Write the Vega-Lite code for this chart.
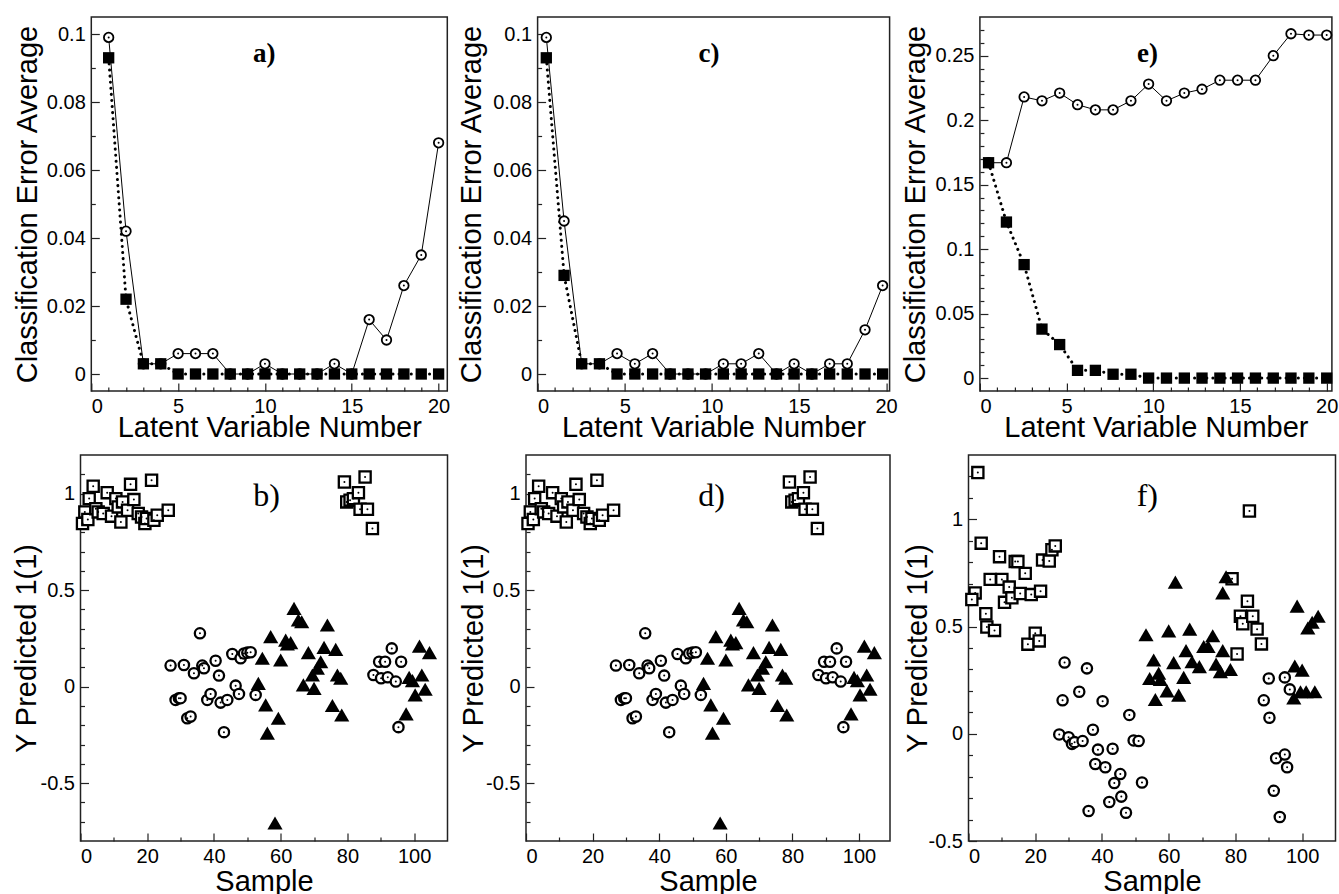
{
 "$schema": "https://vega.github.io/schema/vega-lite/v6.json",
 "padding": {"left": 0, "top": 16, "right": 0, "bottom": 0},
 "background": "white",
 "spacing": 11,
 "config": {
   "view": {"stroke": "#222", "strokeWidth": 1.5},
   "axis": {"domain": false, "grid": false, "labelFont": "Liberation Sans", "labelFontSize": 20, "labelColor": "black", "titleFont": "Liberation Sans", "titleFontSize": 29, "titleFontWeight": "normal", "titleColor": "black", "tickColor": "#222", "tickWidth": 1.2, "labelPadding": 14},
   "axisX": {"titleBaseline": "alphabetic", "labelPadding": 13},
   "axisY": {"titleBaseline": "middle"},
   "title": {"font": "Liberation Serif", "color": "black", "anchor": "middle", "baseline": "middle"}
 },
 "datasets": {
  "a": [
   {"x":1,"y":0.099,"s":"c"},{"x":2,"y":0.042,"s":"c"},{"x":3,"y":0.003,"s":"c"},{"x":4,"y":0.003,"s":"c"},{"x":5,"y":0.006,"s":"c"},{"x":6,"y":0.006,"s":"c"},{"x":7,"y":0.006,"s":"c"},{"x":8,"y":0,"s":"c"},{"x":9,"y":0,"s":"c"},{"x":10,"y":0.003,"s":"c"},{"x":11,"y":0,"s":"c"},{"x":12,"y":0,"s":"c"},{"x":13,"y":0,"s":"c"},{"x":14,"y":0.003,"s":"c"},{"x":15,"y":0,"s":"c"},{"x":16,"y":0.016,"s":"c"},{"x":17,"y":0.01,"s":"c"},{"x":18,"y":0.026,"s":"c"},{"x":19,"y":0.035,"s":"c"},{"x":20,"y":0.068,"s":"c"},
   {"x":1,"y":0.093,"s":"q"},{"x":2,"y":0.022,"s":"q"},{"x":3,"y":0.003,"s":"q"},{"x":4,"y":0.003,"s":"q"},{"x":5,"y":0,"s":"q"},{"x":6,"y":0,"s":"q"},{"x":7,"y":0,"s":"q"},{"x":8,"y":0,"s":"q"},{"x":9,"y":0,"s":"q"},{"x":10,"y":0,"s":"q"},{"x":11,"y":0,"s":"q"},{"x":12,"y":0,"s":"q"},{"x":13,"y":0,"s":"q"},{"x":14,"y":0,"s":"q"},{"x":15,"y":0,"s":"q"},{"x":16,"y":0,"s":"q"},{"x":17,"y":0,"s":"q"},{"x":18,"y":0,"s":"q"},{"x":19,"y":0,"s":"q"},{"x":20,"y":0,"s":"q"}
  ],
  "c": [
   {"x":0.5,"y":0.099,"s":"c"},{"x":1.52,"y":0.045,"s":"c"},{"x":2.53,"y":0.003,"s":"c"},{"x":3.55,"y":0.003,"s":"c"},{"x":4.56,"y":0.006,"s":"c"},{"x":5.58,"y":0.003,"s":"c"},{"x":6.6,"y":0.006,"s":"c"},{"x":7.61,"y":0,"s":"c"},{"x":8.63,"y":0,"s":"c"},{"x":9.64,"y":0,"s":"c"},{"x":10.66,"y":0.003,"s":"c"},{"x":11.68,"y":0.003,"s":"c"},{"x":12.69,"y":0.006,"s":"c"},{"x":13.71,"y":0,"s":"c"},{"x":14.72,"y":0.003,"s":"c"},{"x":15.74,"y":0,"s":"c"},{"x":16.76,"y":0.003,"s":"c"},{"x":17.77,"y":0.003,"s":"c"},{"x":18.79,"y":0.013,"s":"c"},{"x":19.8,"y":0.026,"s":"c"},
   {"x":0.5,"y":0.093,"s":"q"},{"x":1.52,"y":0.029,"s":"q"},{"x":2.53,"y":0.003,"s":"q"},{"x":3.55,"y":0.003,"s":"q"},{"x":4.56,"y":0,"s":"q"},{"x":5.58,"y":0,"s":"q"},{"x":6.6,"y":0,"s":"q"},{"x":7.61,"y":0,"s":"q"},{"x":8.63,"y":0,"s":"q"},{"x":9.64,"y":0,"s":"q"},{"x":10.66,"y":0,"s":"q"},{"x":11.68,"y":0,"s":"q"},{"x":12.69,"y":0,"s":"q"},{"x":13.71,"y":0,"s":"q"},{"x":14.72,"y":0,"s":"q"},{"x":15.74,"y":0,"s":"q"},{"x":16.76,"y":0,"s":"q"},{"x":17.77,"y":0,"s":"q"},{"x":18.79,"y":0,"s":"q"},{"x":19.8,"y":0,"s":"q"}
  ],
  "e": [
   {"x":0.5,"y":0.167,"s":"c"},{"x":1.53,"y":0.167,"s":"c"},{"x":2.55,"y":0.218,"s":"c"},{"x":3.58,"y":0.215,"s":"c"},{"x":4.6,"y":0.221,"s":"c"},{"x":5.63,"y":0.212,"s":"c"},{"x":6.66,"y":0.208,"s":"c"},{"x":7.68,"y":0.208,"s":"c"},{"x":8.71,"y":0.215,"s":"c"},{"x":9.73,"y":0.228,"s":"c"},{"x":10.76,"y":0.215,"s":"c"},{"x":11.79,"y":0.221,"s":"c"},{"x":12.81,"y":0.224,"s":"c"},{"x":13.84,"y":0.231,"s":"c"},{"x":14.86,"y":0.231,"s":"c"},{"x":15.89,"y":0.231,"s":"c"},{"x":16.92,"y":0.25,"s":"c"},{"x":17.94,"y":0.267,"s":"c"},{"x":18.97,"y":0.266,"s":"c"},{"x":20,"y":0.266,"s":"c"},
   {"x":0.5,"y":0.167,"s":"q"},{"x":1.53,"y":0.121,"s":"q"},{"x":2.55,"y":0.088,"s":"q"},{"x":3.58,"y":0.038,"s":"q"},{"x":4.6,"y":0.026,"s":"q"},{"x":5.63,"y":0.006,"s":"q"},{"x":6.66,"y":0.006,"s":"q"},{"x":7.68,"y":0.003,"s":"q"},{"x":8.71,"y":0.003,"s":"q"},{"x":9.73,"y":0,"s":"q"},{"x":10.76,"y":0,"s":"q"},{"x":11.79,"y":0,"s":"q"},{"x":12.81,"y":0,"s":"q"},{"x":13.84,"y":0,"s":"q"},{"x":14.86,"y":0,"s":"q"},{"x":15.89,"y":0,"s":"q"},{"x":16.92,"y":0,"s":"q"},{"x":17.94,"y":0,"s":"q"},{"x":18.97,"y":0,"s":"q"},{"x":20,"y":0,"s":"q"}
  ],
  "bd": [
   {"x":0.6,"y":0.845,"s":"q"},{"x":1.3,"y":0.905,"s":"q"},{"x":2.2,"y":0.866,"s":"q"},{"x":2.6,"y":0.974,"s":"q"},{"x":3.8,"y":1.038,"s":"q"},{"x":4.6,"y":0.922,"s":"q"},{"x":5.3,"y":0.905,"s":"q"},{"x":6.8,"y":0.897,"s":"q"},{"x":8,"y":1.005,"s":"q"},{"x":9.3,"y":0.883,"s":"q"},{"x":10.6,"y":0.974,"s":"q"},{"x":11.3,"y":0.931,"s":"q"},{"x":12.1,"y":0.853,"s":"q"},{"x":12.6,"y":0.957,"s":"q"},{"x":14.1,"y":0.914,"s":"q"},{"x":15,"y":1.048,"s":"q"},{"x":16,"y":0.969,"s":"q"},{"x":17.3,"y":0.897,"s":"q"},{"x":18.3,"y":0.879,"s":"q"},{"x":19.3,"y":0.845,"s":"q"},{"x":19.8,"y":0.871,"s":"q"},{"x":21.3,"y":1.069,"s":"q"},{"x":22,"y":0.862,"s":"q"},{"x":23,"y":0.888,"s":"q"},{"x":26.3,"y":0.914,"s":"q"},
   {"x":79.1,"y":1.06,"s":"q"},{"x":79.8,"y":0.957,"s":"q"},{"x":80.8,"y":0.966,"s":"q"},{"x":81.8,"y":0.974,"s":"q"},{"x":83.3,"y":1.005,"s":"q"},{"x":83.8,"y":0.919,"s":"q"},{"x":85.3,"y":1.086,"s":"q"},{"x":86,"y":0.919,"s":"q"},{"x":87.5,"y":0.819,"s":"q"},
   {"x":27,"y":0.109,"s":"c"},{"x":28.5,"y":-0.069,"s":"c"},{"x":29.5,"y":-0.06,"s":"c"},{"x":30,"y":-0.06,"s":"c"},{"x":31,"y":0.112,"s":"c"},{"x":32,"y":-0.164,"s":"c"},{"x":33,"y":-0.155,"s":"c"},{"x":34,"y":0.069,"s":"c"},{"x":35.8,"y":0.276,"s":"c"},{"x":36.5,"y":0.109,"s":"c"},{"x":37,"y":0.095,"s":"c"},{"x":38,"y":-0.069,"s":"c"},{"x":39,"y":-0.038,"s":"c"},{"x":40.5,"y":0.134,"s":"c"},{"x":41.5,"y":0.057,"s":"c"},{"x":42,"y":-0.083,"s":"c"},{"x":43,"y":-0.236,"s":"c"},{"x":44,"y":-0.069,"s":"c"},{"x":45.5,"y":0.169,"s":"c"},{"x":46.5,"y":0.005,"s":"c"},{"x":47.5,"y":-0.038,"s":"c"},{"x":48,"y":0.147,"s":"c"},{"x":49,"y":0.172,"s":"c"},{"x":50,"y":0.176,"s":"c"},{"x":51,"y":0.178,"s":"c"},{"x":52.5,"y":-0.043,"s":"c"},
   {"x":87.8,"y":0.06,"s":"c"},{"x":89.5,"y":0.129,"s":"c"},{"x":90.1,"y":0.043,"s":"c"},{"x":91.3,"y":0.129,"s":"c"},{"x":92.1,"y":0.048,"s":"c"},{"x":93.3,"y":0.198,"s":"c"},{"x":94.5,"y":0.026,"s":"c"},{"x":95.3,"y":-0.21,"s":"c"},{"x":96.1,"y":0.129,"s":"c"},
   {"x":53.3,"y":0.017,"s":"t"},{"x":54.5,"y":0.147,"s":"t"},{"x":55.5,"y":-0.095,"s":"t"},{"x":56,"y":-0.241,"s":"t"},{"x":57,"y":0.259,"s":"t"},{"x":58.3,"y":-0.707,"s":"t"},{"x":59.3,"y":-0.164,"s":"t"},{"x":60,"y":0.138,"s":"t"},{"x":61.5,"y":0.241,"s":"t"},{"x":62,"y":0.221,"s":"t"},{"x":63,"y":0.228,"s":"t"},{"x":64,"y":0.405,"s":"t"},{"x":65.3,"y":0.345,"s":"t"},{"x":66.3,"y":0.336,"s":"t"},{"x":66.8,"y":0.009,"s":"t"},{"x":68.3,"y":0.176,"s":"t"},{"x":69.5,"y":0.06,"s":"t"},{"x":70,"y":-0.009,"s":"t"},{"x":71,"y":0.095,"s":"t"},{"x":72,"y":0.129,"s":"t"},{"x":73,"y":0.203,"s":"t"},{"x":74,"y":0.319,"s":"t"},{"x":75.5,"y":-0.098,"s":"t"},{"x":76.5,"y":0.193,"s":"t"},{"x":77,"y":0.06,"s":"t"},{"x":78,"y":0.043,"s":"t"},{"x":78.3,"y":-0.147,"s":"t"},
   {"x":97.6,"y":-0.141,"s":"t"},{"x":98.5,"y":0.048,"s":"t"},{"x":99.5,"y":0.031,"s":"t"},{"x":100.3,"y":-0.043,"s":"t"},{"x":101.6,"y":0.21,"s":"t"},{"x":102.3,"y":0.06,"s":"t"},{"x":103.3,"y":-0.014,"s":"t"},{"x":104.6,"y":0.176,"s":"t"}
  ],
  "f": [
   {"x":2.8,"y":1.218,"s":"q"},{"x":3.8,"y":0.889,"s":"q"},{"x":2,"y":0.657,"s":"q"},{"x":1,"y":0.626,"s":"q"},{"x":5.2,"y":0.56,"s":"q"},{"x":5.5,"y":0.498,"s":"q"},{"x":7.8,"y":0.482,"s":"q"},{"x":6.5,"y":0.72,"s":"q"},{"x":9.3,"y":0.826,"s":"q"},{"x":10,"y":0.72,"s":"q"},{"x":10.8,"y":0.613,"s":"q"},{"x":12.2,"y":0.684,"s":"q"},{"x":13,"y":0.634,"s":"q"},{"x":14,"y":0.803,"s":"q"},{"x":14.8,"y":0.803,"s":"q"},{"x":15.5,"y":0.654,"s":"q"},{"x":17,"y":0.748,"s":"q"},{"x":17.8,"y":0.418,"s":"q"},{"x":18.8,"y":0.649,"s":"q"},{"x":20,"y":0.469,"s":"q"},{"x":21.2,"y":0.433,"s":"q"},{"x":21.6,"y":0.665,"s":"q"},{"x":22.2,"y":0.81,"s":"q"},{"x":24.2,"y":0.806,"s":"q"},{"x":25,"y":0.858,"s":"q"},{"x":26,"y":0.876,"s":"q"},
   {"x":79,"y":0.723,"s":"q"},{"x":80.5,"y":0.372,"s":"q"},{"x":81.5,"y":0.548,"s":"q"},{"x":82.2,"y":0.513,"s":"q"},{"x":83.6,"y":0.618,"s":"q"},{"x":84.2,"y":1.039,"s":"q"},{"x":85.2,"y":0.548,"s":"q"},{"x":86.5,"y":0.488,"s":"q"},{"x":87.8,"y":0.419,"s":"q"},
   {"x":27.2,"y":-0.003,"s":"c"},{"x":28.2,"y":0.156,"s":"c"},{"x":28.8,"y":0.332,"s":"c"},{"x":30,"y":-0.016,"s":"c"},{"x":31,"y":-0.047,"s":"c"},{"x":31.8,"y":-0.039,"s":"c"},{"x":33.2,"y":0.196,"s":"c"},{"x":34.2,"y":-0.034,"s":"c"},{"x":35.5,"y":0.305,"s":"c"},{"x":36,"y":-0.36,"s":"c"},{"x":37.3,"y":0.019,"s":"c"},{"x":38,"y":-0.141,"s":"c"},{"x":38.8,"y":-0.074,"s":"c"},{"x":40.2,"y":0.152,"s":"c"},{"x":41,"y":-0.156,"s":"c"},{"x":42.2,"y":-0.318,"s":"c"},{"x":43.2,"y":-0.07,"s":"c"},{"x":43.7,"y":-0.23,"s":"c"},{"x":45.5,"y":-0.188,"s":"c"},{"x":45.8,"y":-0.293,"s":"c"},{"x":47.2,"y":-0.368,"s":"c"},{"x":48.2,"y":0.088,"s":"c"},{"x":49.5,"y":-0.031,"s":"c"},{"x":51,"y":-0.034,"s":"c"},{"x":52,"y":-0.227,"s":"c"},
   {"x":88.5,"y":0.156,"s":"c"},{"x":90,"y":0.258,"s":"c"},{"x":90.2,"y":0.075,"s":"c"},{"x":91.5,"y":-0.266,"s":"c"},{"x":92.2,"y":-0.114,"s":"c"},{"x":93.3,"y":-0.388,"s":"c"},{"x":94.8,"y":0.263,"s":"c"},{"x":94.8,"y":-0.097,"s":"c"},{"x":95.5,"y":-0.156,"s":"c"},{"x":96.3,"y":0.207,"s":"c"},
   {"x":53.2,"y":0.462,"s":"t"},{"x":54.3,"y":0.258,"s":"t"},{"x":55.5,"y":0.344,"s":"t"},{"x":56,"y":0.16,"s":"t"},{"x":57,"y":0.282,"s":"t"},{"x":57.5,"y":0.254,"s":"t"},{"x":59.5,"y":0.2,"s":"t"},{"x":60,"y":0.48,"s":"t"},{"x":61.5,"y":0.332,"s":"t"},{"x":62,"y":0.707,"s":"t"},{"x":63,"y":0.18,"s":"t"},{"x":64.5,"y":0.263,"s":"t"},{"x":65.2,"y":0.388,"s":"t"},{"x":66.3,"y":0.488,"s":"t"},{"x":67,"y":0.336,"s":"t"},{"x":69.2,"y":0.313,"s":"t"},{"x":70.5,"y":0.407,"s":"t"},{"x":71.8,"y":0.407,"s":"t"},{"x":73.2,"y":0.457,"s":"t"},{"x":74.2,"y":0.325,"s":"t"},{"x":75.5,"y":0.29,"s":"t"},{"x":76.2,"y":0.388,"s":"t"},{"x":76.2,"y":0.657,"s":"t"},{"x":77.2,"y":0.732,"s":"t"},{"x":78.5,"y":0.3,"s":"t"},
   {"x":97.5,"y":0.167,"s":"t"},{"x":97.8,"y":0.316,"s":"t"},{"x":98.5,"y":0.595,"s":"t"},{"x":100,"y":0.297,"s":"t"},{"x":99.5,"y":0.196,"s":"t"},{"x":101.2,"y":0.196,"s":"t"},{"x":101.7,"y":0.493,"s":"t"},{"x":103,"y":0.52,"s":"t"},{"x":103.8,"y":0.196,"s":"t"},{"x":104.8,"y":0.548,"s":"t"}
  ]
 },
 "vconcat": [
  {"bounds": "flush", "spacing": 90.3, "hconcat": [
   {"width": 1, "height": 10, "data": {"values": [{}]}, "mark": {"type": "point", "opacity": 0, "size": 0, "strokeWidth": 0}, "encoding": {}, "view": {"fill": "white", "stroke": null}},
   {"width": 356, "height": 374, "data": {"name": "a"},
    "title": {"text": "a)", "fontSize": 27, "fontWeight": "bold", "offset": -51, "dx": -5},
    "encoding": {
     "x": {"field": "x", "type": "quantitative", "scale": {"domain": [0, 20.5], "nice": false, "zero": false},
       "axis": {"title": "Latent Variable Number", "titleY": 45, "values": [0,1,2,3,4,5,6,7,8,9,10,11,12,13,14,15,16,17,18,19,20], "labelExpr": "datum.value % 5 === 0 ? datum.label : ''", "tickSize": {"condition": {"test": "datum.value % 5 === 0", "value": -8}, "value": -4}}},
     "y": {"field": "y", "type": "quantitative", "scale": {"domain": [-0.005, 0.105], "nice": false, "zero": false},
       "axis": {"title": "Classification Error Average", "titleX": -64, "values": [0,0.01,0.02,0.03,0.04,0.05,0.06,0.07,0.08,0.09,0.1], "labelExpr": "abs(datum.value*50-round(datum.value*50))<1e-6 ? format(datum.value,'~g') : ''", "tickSize": {"condition": {"test": "abs(datum.value*50-round(datum.value*50))<1e-6", "value": -8}, "value": -4}}}
    },
    "layer": [
     {"transform": [{"filter": "datum.s==='c'"}], "mark": {"type": "line", "stroke": "black", "strokeWidth": 1}},
     {"transform": [{"filter": "datum.s==='q'"}], "mark": {"type": "line", "stroke": "black", "strokeWidth": 3, "strokeDash": [0.1, 6], "strokeCap": "round"}},
     {"transform": [{"filter": "datum.s==='c'"}], "mark": {"type": "point", "shape": "circle", "size": 90, "filled": true, "fill": "white", "stroke": "black", "strokeWidth": 1.8, "opacity": 1}},
     {"transform": [{"filter": "datum.s==='c'"}], "mark": {"type": "point", "shape": "circle", "size": 4, "filled": true, "fill": "black", "strokeWidth": 0, "opacity": 1}},
     {"transform": [{"filter": "datum.s==='q'"}], "mark": {"type": "point", "shape": "square", "size": 128, "filled": true, "fill": "black", "strokeWidth": 0, "opacity": 1}}
    ]},
   {"width": 352, "height": 374, "data": {"name": "c"},
    "title": {"text": "c)", "fontSize": 27, "fontWeight": "bold", "offset": -51, "dx": -4.7},
    "encoding": {
     "x": {"field": "x", "type": "quantitative", "scale": {"domain": [0, 20.2], "nice": false, "zero": false},
       "axis": {"title": "Latent Variable Number", "titleY": 45, "values": [0,1,2,3,4,5,6,7,8,9,10,11,12,13,14,15,16,17,18,19,20], "labelExpr": "datum.value % 5 === 0 ? datum.label : ''", "tickSize": {"condition": {"test": "datum.value % 5 === 0", "value": -8}, "value": -4}}},
     "y": {"field": "y", "type": "quantitative", "scale": {"domain": [-0.005, 0.105], "nice": false, "zero": false},
       "axis": {"title": "Classification Error Average", "titleX": -65.7, "values": [0,0.01,0.02,0.03,0.04,0.05,0.06,0.07,0.08,0.09,0.1], "labelExpr": "abs(datum.value*50-round(datum.value*50))<1e-6 ? format(datum.value,'~g') : ''", "tickSize": {"condition": {"test": "abs(datum.value*50-round(datum.value*50))<1e-6", "value": -8}, "value": -4}}}
    },
    "layer": [
     {"transform": [{"filter": "datum.s==='c'"}], "mark": {"type": "line", "stroke": "black", "strokeWidth": 1}},
     {"transform": [{"filter": "datum.s==='q'"}], "mark": {"type": "line", "stroke": "black", "strokeWidth": 3, "strokeDash": [0.1, 6], "strokeCap": "round"}},
     {"transform": [{"filter": "datum.s==='c'"}], "mark": {"type": "point", "shape": "circle", "size": 90, "filled": true, "fill": "white", "stroke": "black", "strokeWidth": 1.8, "opacity": 1}},
     {"transform": [{"filter": "datum.s==='c'"}], "mark": {"type": "point", "shape": "circle", "size": 4, "filled": true, "fill": "black", "strokeWidth": 0, "opacity": 1}},
     {"transform": [{"filter": "datum.s==='q'"}], "mark": {"type": "point", "shape": "square", "size": 128, "filled": true, "fill": "black", "strokeWidth": 0, "opacity": 1}}
    ]},
   {"width": 352, "height": 374, "data": {"name": "e"},
    "title": {"text": "e)", "fontSize": 27, "fontWeight": "bold", "offset": -51, "dx": -8.4},
    "encoding": {
     "x": {"field": "x", "type": "quantitative", "scale": {"domain": [0, 20.3], "nice": false, "zero": false},
       "axis": {"title": "Latent Variable Number", "titleY": 45, "values": [0,1,2,3,4,5,6,7,8,9,10,11,12,13,14,15,16,17,18,19,20], "labelExpr": "datum.value % 5 === 0 ? datum.label : ''", "tickSize": {"condition": {"test": "datum.value % 5 === 0", "value": -8}, "value": -4}}},
     "y": {"field": "y", "type": "quantitative", "scale": {"domain": [-0.01, 0.28], "nice": false, "zero": false},
       "axis": {"title": "Classification Error Average", "titleX": -64.7, "values": [0,0.01,0.02,0.03,0.04,0.05,0.06,0.07,0.08,0.09,0.1,0.11,0.12,0.13,0.14,0.15,0.16,0.17,0.18,0.19,0.2,0.21,0.22,0.23,0.24,0.25,0.26,0.27], "labelExpr": "abs(datum.value*20-round(datum.value*20))<1e-6 ? format(datum.value,'~g') : ''", "tickSize": {"condition": {"test": "abs(datum.value*20-round(datum.value*20))<1e-6", "value": -8}, "value": -4}}}
    },
    "layer": [
     {"transform": [{"filter": "datum.s==='c'"}], "mark": {"type": "line", "stroke": "black", "strokeWidth": 1}},
     {"transform": [{"filter": "datum.s==='q'"}], "mark": {"type": "line", "stroke": "black", "strokeWidth": 3, "strokeDash": [0.1, 6], "strokeCap": "round"}},
     {"transform": [{"filter": "datum.s==='c'"}], "mark": {"type": "point", "shape": "circle", "size": 90, "filled": true, "fill": "white", "stroke": "black", "strokeWidth": 1.8, "opacity": 1}},
     {"transform": [{"filter": "datum.s==='c'"}], "mark": {"type": "point", "shape": "circle", "size": 4, "filled": true, "fill": "black", "strokeWidth": 0, "opacity": 1}},
     {"transform": [{"filter": "datum.s==='q'"}], "mark": {"type": "point", "shape": "square", "size": 128, "filled": true, "fill": "black", "strokeWidth": 0, "opacity": 1}}
    ]}
  ]},
  {"bounds": "flush", "spacing": 78.5, "hconcat": [
   {"width": 2, "height": 10, "data": {"values": [{}]}, "mark": {"type": "point", "opacity": 0, "size": 0, "strokeWidth": 0}, "encoding": {}, "view": {"fill": "white", "stroke": null}},
   {"width": 367, "height": 386, "data": {"name": "bd"},
    "title": {"text": "b)", "fontSize": 32, "fontWeight": "normal", "offset": -58, "dx": 2.5},
    "encoding": {
     "x": {"field": "x", "type": "quantitative", "scale": {"domain": [0, 110], "nice": false, "zero": false},
       "axis": {"title": "Sample", "titleY": 49, "values": [0,10,20,30,40,50,60,70,80,90,100], "labelExpr": "datum.value % 20 === 0 ? datum.label : ''", "tickSize": {"condition": {"test": "datum.value % 20 === 0", "value": -8}, "value": -4}}},
     "y": {"field": "y", "type": "quantitative", "scale": {"domain": [-0.8, 1.2], "nice": false, "zero": false},
       "axis": {"title": "Y Predicted 1(1)", "titleX": -53.7, "values": [-0.7,-0.6,-0.5,-0.4,-0.3,-0.2,-0.1,0,0.1,0.2,0.3,0.4,0.5,0.6,0.7,0.8,0.9,1,1.1], "labelExpr": "abs(datum.value*2-round(datum.value*2))<1e-6 ? replace(format(datum.value,'~g'), '\u2212', '-') : ''", "tickSize": {"condition": {"test": "abs(datum.value*2-round(datum.value*2))<1e-6", "value": -8}, "value": -4}}}
    },
    "layer": [
     {"transform": [{"filter": "datum.s==='q'"}], "mark": {"type": "point", "shape": "square", "size": 125, "filled": true, "fill": "white", "stroke": "black", "strokeWidth": 2.3, "opacity": 1}},
     {"transform": [{"filter": "datum.s==='c'"}], "mark": {"type": "point", "shape": "circle", "size": 105, "filled": true, "fill": "white", "stroke": "black", "strokeWidth": 2.3, "opacity": 1}},
     {"transform": [{"filter": "datum.s!=='t'"}], "mark": {"type": "point", "shape": "circle", "size": 4, "filled": true, "fill": "black", "strokeWidth": 0, "opacity": 1}},
     {"transform": [{"filter": "datum.s==='t'"}], "mark": {"type": "point", "shape": "triangle-up", "size": 230, "filled": true, "fill": "black", "strokeWidth": 0, "opacity": 1}}
    ]},
   {"width": 364, "height": 386, "data": {"name": "bd"},
    "title": {"text": "d)", "fontSize": 32, "fontWeight": "normal", "offset": -58, "dx": 3.5},
    "encoding": {
     "x": {"field": "x", "type": "quantitative", "scale": {"domain": [0, 109.3], "nice": false, "zero": false},
       "axis": {"title": "Sample", "titleY": 49, "values": [0,10,20,30,40,50,60,70,80,90,100], "labelExpr": "datum.value % 20 === 0 ? datum.label : ''", "tickSize": {"condition": {"test": "datum.value % 20 === 0", "value": -8}, "value": -4}}},
     "y": {"field": "y", "type": "quantitative", "scale": {"domain": [-0.8, 1.2], "nice": false, "zero": false},
       "axis": {"title": "Y Predicted 1(1)", "titleX": -53, "values": [-0.7,-0.6,-0.5,-0.4,-0.3,-0.2,-0.1,0,0.1,0.2,0.3,0.4,0.5,0.6,0.7,0.8,0.9,1,1.1], "labelExpr": "abs(datum.value*2-round(datum.value*2))<1e-6 ? replace(format(datum.value,'~g'), '\u2212', '-') : ''", "tickSize": {"condition": {"test": "abs(datum.value*2-round(datum.value*2))<1e-6", "value": -8}, "value": -4}}}
    },
    "layer": [
     {"transform": [{"filter": "datum.s==='q'"}], "mark": {"type": "point", "shape": "square", "size": 125, "filled": true, "fill": "white", "stroke": "black", "strokeWidth": 2.3, "opacity": 1}},
     {"transform": [{"filter": "datum.s==='c'"}], "mark": {"type": "point", "shape": "circle", "size": 105, "filled": true, "fill": "white", "stroke": "black", "strokeWidth": 2.3, "opacity": 1}},
     {"transform": [{"filter": "datum.s!=='t'"}], "mark": {"type": "point", "shape": "circle", "size": 4, "filled": true, "fill": "black", "strokeWidth": 0, "opacity": 1}},
     {"transform": [{"filter": "datum.s==='t'"}], "mark": {"type": "point", "shape": "triangle-up", "size": 230, "filled": true, "fill": "black", "strokeWidth": 0, "opacity": 1}}
    ]},
   {"width": 367, "height": 386, "data": {"name": "f"},
    "title": {"text": "f)", "fontSize": 32, "fontWeight": "normal", "offset": -58, "dx": -4.7},
    "encoding": {
     "x": {"field": "x", "type": "quantitative", "scale": {"domain": [0, 110], "nice": false, "zero": false},
       "axis": {"title": "Sample", "titleY": 49, "values": [0,10,20,30,40,50,60,70,80,90,100], "labelExpr": "datum.value % 20 === 0 ? datum.label : ''", "tickSize": {"condition": {"test": "datum.value % 20 === 0", "value": -8}, "value": -4}}},
     "y": {"field": "y", "type": "quantitative", "scale": {"domain": [-0.5, 1.3], "nice": false, "zero": false},
       "axis": {"title": "Y Predicted 1(1)", "titleX": -51.3, "values": [-0.5,-0.4,-0.3,-0.2,-0.1,0,0.1,0.2,0.3,0.4,0.5,0.6,0.7,0.8,0.9,1,1.1,1.2], "labelExpr": "abs(datum.value*2-round(datum.value*2))<1e-6 ? replace(format(datum.value,'~g'), '\u2212', '-') : ''", "tickSize": {"condition": {"test": "abs(datum.value*2-round(datum.value*2))<1e-6", "value": -8}, "value": -4}}}
    },
    "layer": [
     {"transform": [{"filter": "datum.s==='q'"}], "mark": {"type": "point", "shape": "square", "size": 125, "filled": true, "fill": "white", "stroke": "black", "strokeWidth": 2.3, "opacity": 1}},
     {"transform": [{"filter": "datum.s==='c'"}], "mark": {"type": "point", "shape": "circle", "size": 105, "filled": true, "fill": "white", "stroke": "black", "strokeWidth": 2.3, "opacity": 1}},
     {"transform": [{"filter": "datum.s!=='t'"}], "mark": {"type": "point", "shape": "circle", "size": 4, "filled": true, "fill": "black", "strokeWidth": 0, "opacity": 1}},
     {"transform": [{"filter": "datum.s==='t'"}], "mark": {"type": "point", "shape": "triangle-up", "size": 230, "filled": true, "fill": "black", "strokeWidth": 0, "opacity": 1}}
    ]}
  ]}
 ]
}
